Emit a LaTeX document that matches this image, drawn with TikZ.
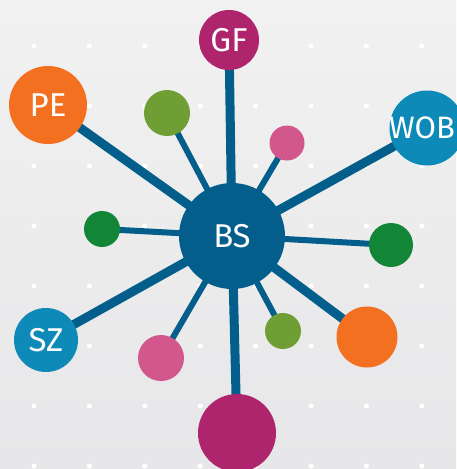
\documentclass[tikz,border=0pt]{standalone}
\usepackage{fontspec}
\setmainfont{Fira Sans}
\usetikzlibrary{backgrounds}
\definecolor{hub}{HTML}{035E8C}
\definecolor{magen}{HTML}{AE256D}
\definecolor{orng}{HTML}{F37021}
\definecolor{cyanb}{HTML}{0E8AB8}
\definecolor{olive}{HTML}{6E9E34}
\definecolor{pinkc}{HTML}{D1578D}
\definecolor{dgreen}{HTML}{138536}
\definecolor{bgtop}{HTML}{F1F1F1}
\definecolor{bgbot}{HTML}{E7E7E9}
\tikzset{
  ballfont/.style={text=white, font=\fontsize{33}{33}\selectfont},
  ball/.style={circle, inner sep=0pt, outer sep=0pt, ballfont, minimum size=#1},
  thickline/.style={draw=hub, line width=9pt},
  thinline/.style={draw=hub, line width=6pt},
}
\begin{document}
\begin{tikzpicture}[x=1pt, y=-1pt]
\useasboundingbox (0,0) rectangle (456,469);
\node[ball=106pt, fill=hub] (bs) at (232,236) {BS};
\node[ball=60pt, fill=magen] (gf) at (229,40) {GF};
\node[ball=78pt, fill=orng] (pe) at (48,105) {PE};
\node[ball=75pt, fill=cyanb,
  label={[text=white, font=\fontsize{31}{31}\selectfont, inner sep=0pt, xshift=-5pt]center:WOB}] (wob) at (427,128) {};
\node[ball=46pt, fill=olive] (ol1) at (167,113) {};
\node[ball=35pt, fill=pinkc] (pk1) at (287,143) {};
\node[ball=36pt, fill=dgreen] (dg1) at (102,229) {};
\node[ball=44pt, fill=dgreen] (dg2) at (391,245) {};
\node[ball=64pt, fill=cyanb] (sz) at (46,340) {SZ};
\node[ball=46pt, fill=pinkc] (pk2) at (161,358) {};
\node[ball=36pt, fill=olive] (ol2) at (283,331) {};
\node[ball=61pt, fill=orng] (or2) at (367,337) {};
\node[ball=78pt, fill=magen] (mg2) at (237,433) {};
\begin{scope}[on background layer]
\clip (0,0) rectangle (456,469);
\shade[top color=bgtop, bottom color=bgbot] (0,0) rectangle (456,469);
\foreach \i in {0,...,7}{
  \foreach \j in {0,...,7}{
    \fill[white] ({34+55.4*\i},{46+60*\j}) circle (2.6);
  }
}
\path[thickline] (bs.center) -- (gf.center);
\path[thickline] (bs.center) -- (pe.center);
\path[thickline] (bs.center) -- (wob.center);
\path[thickline] (bs.center) -- (sz.center);
\path[thickline] (bs.center) -- (or2.center);
\path[thickline] (bs.center) -- (mg2.center);
\path[thinline] (bs.center) -- (ol1.center);
\path[thinline] (bs.center) -- (pk1.center);
\path[thinline] (bs.center) -- (dg1.center);
\path[thinline] (bs.center) -- (dg2.center);
\path[thinline] (bs.center) -- (pk2.center);
\path[thinline] (bs.center) -- (ol2.center);
\end{scope}
\end{tikzpicture}
\end{document}
